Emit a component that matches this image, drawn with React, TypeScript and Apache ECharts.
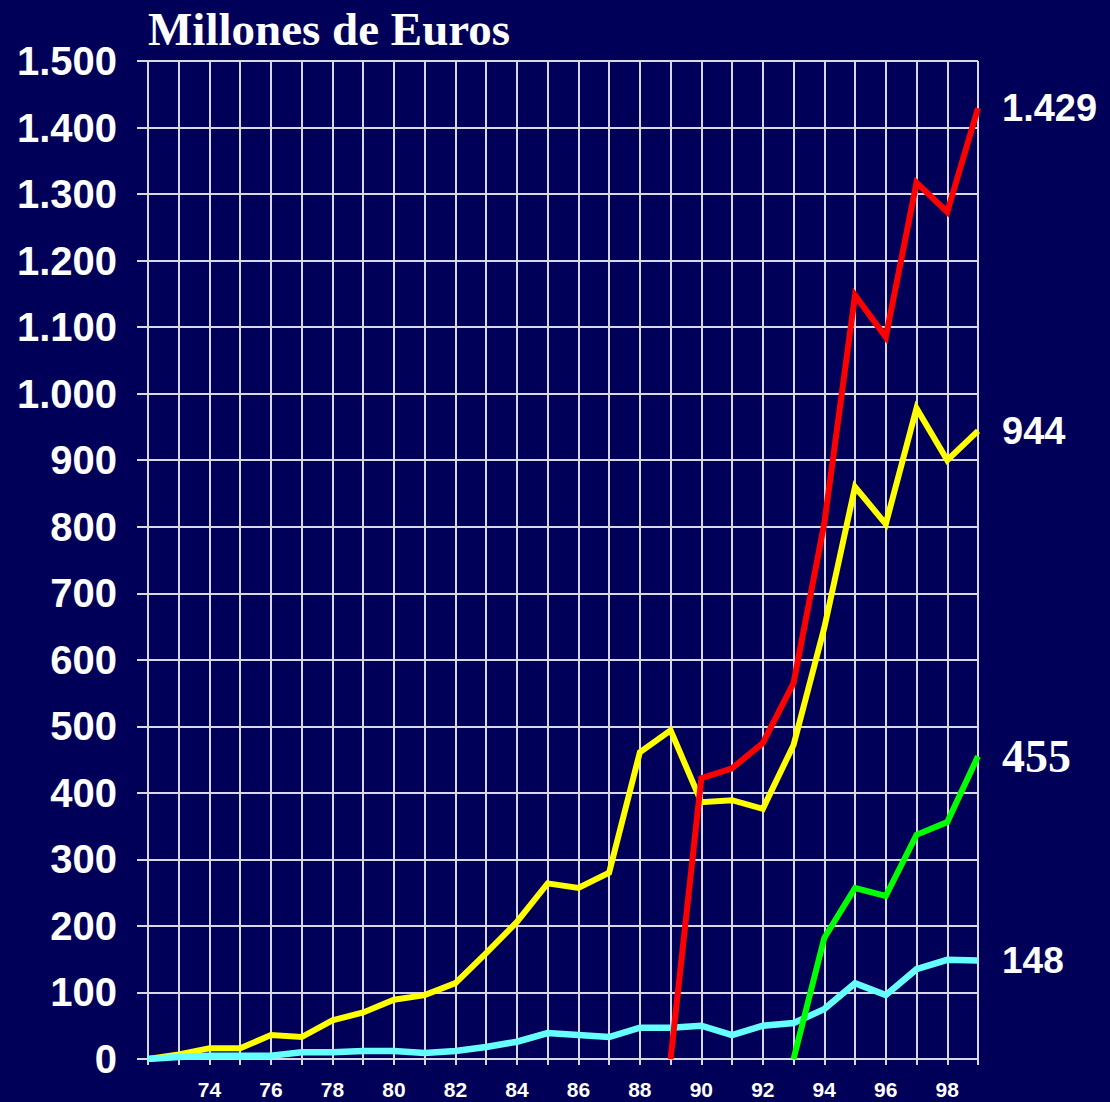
import React, { useEffect, useRef } from "react";
import * as echarts from "echarts";

const years = [72, 73, 74, 75, 76, 77, 78, 79, 80, 81, 82, 83, 84, 85, 86, 87, 88, 89, 90, 91, 92, 93, 94, 95, 96, 97, 98, 99];

const yellowValues = [0, 7, 16, 16, 36, 33, 58, 70, 89, 96, 114, 159, 206, 264, 257, 280, 461, 494, 386, 389, 376, 472, 648, 860, 804, 978, 900, 944];
const cyanValues = [0, 3, 5, 5, 5, 10, 10, 12, 12, 9, 12, 18, 26, 39, 36, 33, 47, 47, 50, 36, 50, 54, 75, 114, 96, 135, 149, 148];
const redValues = [null, null, null, null, null, null, null, null, null, null, null, null, null, null, null, null, null, 0, 422, 437, 475, 565, 805, 1148, 1085, 1317, 1273, 1429];
const greenValues = [null, null, null, null, null, null, null, null, null, null, null, null, null, null, null, null, null, null, null, null, null, 0, 182, 257, 245, 337, 356, 455];

const yTickMin = 0;
const yTickMax = 1500;
const yTickStep = 100;

const fmt = (v: number) => {
  const s = String(Math.round(v));
  return s.replace(/\B(?=(\d{3})+(?!\d))/g, ".");
};

const toPairs = (vals: (number | null)[]) =>
  years.map((y, i) => [y, vals[i]] as [number, number | null]).filter((p) => p[1] !== null);

export default function App() {
  const ref = useRef<HTMLDivElement>(null);
  useEffect(() => {
    if (!ref.current) return;
    const chart = echarts.init(ref.current, undefined, { renderer: "svg" });
    const endLabel = (fontSize: number, family: string) => ({
      show: true,
      distance: 24,
      color: "#ffffff",
      fontSize,
      fontWeight: "bold" as const,
      fontFamily: family,
      formatter: (p: any) => fmt(p.value[1]),
    });
    const mkSeries = (name: string, vals: (number | null)[], color: string, width: number, lbl: any) => ({
      name,
      type: "line",
      data: toPairs(vals),
      showSymbol: false,
      symbol: "none",
      lineStyle: { color, width, join: "miter", cap: "butt" },
      endLabel: lbl,
      labelLayout: { hideOverlap: false },
      z: 3,
    });
    chart.setOption({
      animation: false,
      backgroundColor: "#000058",
      title: {
        text: "Millones de Euros",
        left: 143,
        top: 0,
        textStyle: {
          color: "#ffffff",
          fontSize: 47,
          fontWeight: "bold",
          fontFamily: "Liberation Serif, Times New Roman, serif",
        },
      },
      grid: { left: 148, right: 132, top: 61, bottom: 43, containLabel: false },
      xAxis: {
        type: "value",
        min: 72,
        max: 99,
        interval: 1,
        axisLine: { show: true, lineStyle: { color: "#d8d8e4", width: 2 } },
        axisTick: { show: true, length: 6, lineStyle: { color: "#d8d8e4", width: 2 } },
        splitLine: { show: true, lineStyle: { color: "#d8d8e4", width: 2 } },
        axisLabel: {
          color: "#ffffff",
          fontSize: 21,
          fontWeight: "bold",
          fontFamily: "Liberation Sans, Arial, sans-serif",
          margin: 20,
          formatter: (v: number) => (v % 2 === 0 && v >= 74 ? String(v) : ""),
        },
      },
      yAxis: {
        type: "value",
        min: yTickMin,
        max: yTickMax,
        interval: yTickStep,
        axisLine: { show: true, lineStyle: { color: "#d8d8e4", width: 2 } },
        axisTick: { show: true, length: 11, lineStyle: { color: "#d8d8e4", width: 2 } },
        splitLine: { show: true, lineStyle: { color: "#d8d8e4", width: 2 } },
        axisLabel: {
          color: "#ffffff",
          fontSize: 40,
          fontWeight: "bold",
          fontFamily: "Liberation Sans, Arial, sans-serif",
          margin: 31,
          formatter: (v: number) => fmt(v),
        },
      },
      series: [
        mkSeries("yellow", yellowValues, "#ffff00", 6, endLabel(38, "Liberation Sans, Arial, sans-serif")),
        mkSeries("cyan", cyanValues, "#66ffff", 6.5, endLabel(37, "Liberation Sans, Arial, sans-serif")),
        mkSeries("red", redValues, "#ff0000", 6, endLabel(38, "Liberation Sans, Arial, sans-serif")),
        mkSeries("green", greenValues, "#00ff00", 6, endLabel(46, "Liberation Serif, Times New Roman, serif")),
      ],
    });
    return () => chart.dispose();
  }, []);
  return <div ref={ref} style={{ width: 1110, height: 1102, position: "absolute", left: 0, top: 0 }} />;
}
